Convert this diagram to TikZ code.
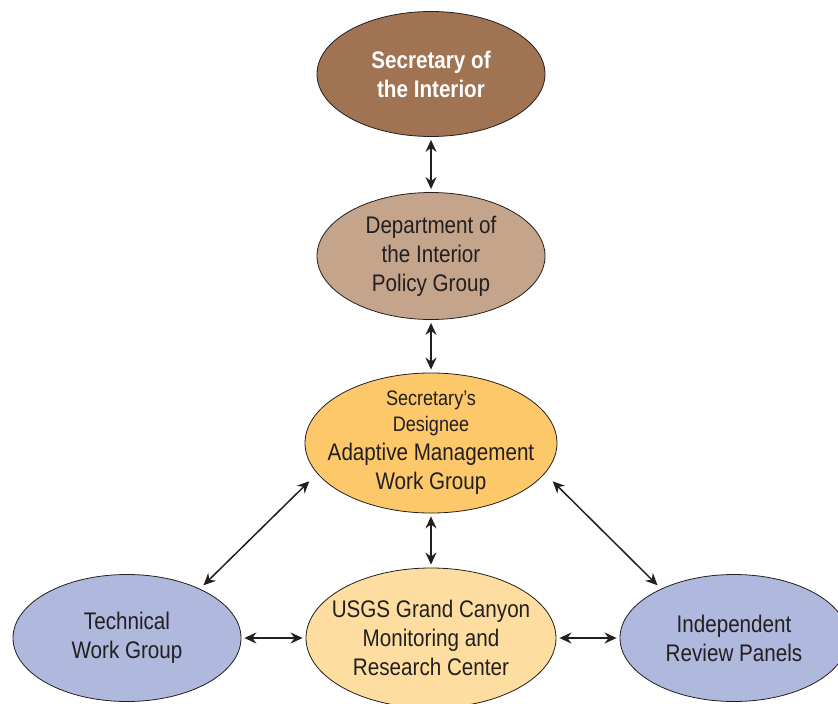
\documentclass[tikz,border=0pt]{standalone}
\usepackage{fontspec}
\setmainfont{Liberation Sans}[FakeStretch=0.86]
\usetikzlibrary{arrows.meta,shapes.geometric}
\definecolor{secbrown}{RGB}{160,116,83}
\definecolor{doitan}{RGB}{196,165,140}
\definecolor{amwgorange}{RGB}{253,200,106}
\definecolor{usgsyellow}{RGB}{253,222,160}
\definecolor{panelblue}{RGB}{175,185,222}
\definecolor{inkgray}{RGB}{35,31,32}
\begin{document}
\begin{tikzpicture}[x=1pt, y=-1pt,
        orgnode/.style={ellipse, draw=inkgray, line width=0.8pt, inner sep=-25pt, align=center,
          text=inkgray, font=\fontsize{24}{29}\selectfont},
        link/.style={{Stealth[length=12pt,width=11pt,inset=4pt]}-{Stealth[length=12pt,width=11pt,inset=4pt]},
          line width=1.5pt, inkgray, shorten <=3pt, shorten >=3pt}
      ]
      \useasboundingbox (0, 0) rectangle (838, 704);
      % chain of command
      \node[orgnode, fill=secbrown, minimum width=228pt, minimum height=125pt, text=white,
        font=\fontsize{24}{29}\selectfont\bfseries] at (431, 74) (sec) {Secretary of\\the Interior};
      \node[orgnode, fill=doitan, minimum width=228pt, minimum height=127pt] at (431, 256) (doi)
        {Department of\\the Interior\\Policy Group};
      \node[orgnode, fill=amwgorange, minimum width=252pt, minimum height=140pt] at (431, 443) (amwg)
        {{\fontsize{21}{26}\selectfont Secretary's}\\[-3pt]{\fontsize{21}{26}\selectfont Designee}\\Adaptive Management\\Work Group};
      % bottom row
      \node[orgnode, fill=panelblue, minimum width=228pt, minimum height=127pt] at (127, 638) (twg)
        {Technical\\Work Group};
      \node[orgnode, fill=usgsyellow, minimum width=250pt, minimum height=140pt] at (431, 638) (gcmrc)
        {USGS Grand Canyon\\Monitoring and\\Research Center};
      \node[orgnode, fill=panelblue, minimum width=228pt, minimum height=127pt] at (734, 638) (irp)
        {Independent\\Review Panels};
      % links
      \draw[link] (sec) -- (doi);
      \draw[link] (doi) -- (amwg);
      \draw[link] (amwg) -- (gcmrc);
      \draw[link, shorten <=11pt, shorten >=5pt] (amwg.195) -- (twg.34);
      \draw[link, shorten <=11pt, shorten >=5pt] (amwg.345) -- (irp.146);
      \draw[link] (twg) -- (gcmrc);
      \draw[link] (gcmrc) -- (irp);
  \end{tikzpicture}
\end{document}
